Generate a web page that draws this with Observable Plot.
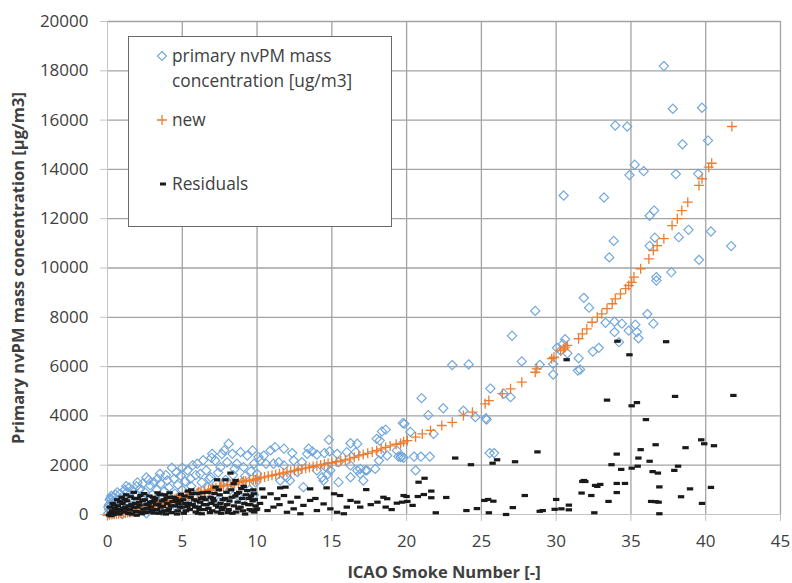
<!DOCTYPE html>
<html>
<head>
<meta charset="utf-8">
<script src="https://cdn.jsdelivr.net/npm/d3@7"></script>
<script src="https://cdn.jsdelivr.net/npm/@observablehq/plot@0.6"></script>
<style>
  html, body { margin: 0; padding: 0; background: #fff; }
  #wrap { position: relative; width: 792px; height: 583px; font-family: "Open Sans", Lato, sans-serif; }
  #legend { position: absolute; left: 128px; top: 36px; width: 264px; height: 191px; box-sizing: border-box;
            border: 1px solid #6a6a6a; background: #fff; color: #404040; font-size: 17.3px; }
  #legend .t { position: absolute; left: 43px; line-height: 25px; white-space: nowrap; }
  #legend svg { position: absolute; left: 0; top: 0; }
</style>
</head>
<body>
<div id="wrap">
  <div id="chart"></div>
  <div id="legend">
    <svg width="262" height="189">
      <path d="M33,14.5L37.5,19L33,23.5L28.5,19Z" fill="none" stroke="#6fa6dc" stroke-width="1.1"/>
      <path d="M28,83H38M33,78V88" fill="none" stroke="#ed7d31" stroke-width="1.3"/>
      <rect x="31" y="145.5" width="6" height="3" fill="#1a1a1a"/>
    </svg>
    <div class="t" style="top:6px">primary nvPM mass</div>
    <div class="t" style="top:31px">concentration [ug/m3]</div>
    <div class="t" style="top:70px">new</div>
    <div class="t" style="top:134px">Residuals</div>
  </div>
</div>
<script>
// ---- Data ----
const xTicks = [0, 5, 10, 15, 20, 25, 30, 35, 40, 45];
const yTicks = [0, 2000, 4000, 6000, 8000, 10000, 12000, 14000, 16000, 18000, 20000];

// primary nvPM mass concentration [ug/m3] vs ICAO smoke number
const primaryPoints = [
 [0.05,50],[0.1,200],[0.1,400],[0.15,600],[0.2,120],[0.3,300],[0.3,500],[0.4,700],[0.45,80],[0.5,250],
 [0.6,450],[0.7,600],[0.8,150],[0.85,840],[0.9,350],[1.0,550],[1.0,20],[1.1,700],[1.2,250],[1.3,900],
 [1.4,450],[1.5,100],[1.6,650],[1.7,970],[1.8,300],[1.9,800],[2.0,500],[2.1,150],[2.2,1040],[2.3,700],
 [2.4,350],[2.5,900],[2.6,50],[2.7,600],[2.85,1180],[2.9,400],[3.0,800],[3.1,1310],[3.2,250],[3.3,1000],
 [3.4,550],[3.55,1250],[3.6,150],[3.7,700],[3.8,950],[4.0,1380],[4.0,400],[4.1,1100],[4.2,600],[4.3,250],
 [4.45,1450],[4.5,850],[4.7,1200],[4.8,500],[4.9,1580],[5.0,1000],[5.1,300],[5.2,1350],[5.35,1790],[5.4,700],
 [5.55,1450],[5.6,1150],[5.8,450],[5.9,1600],[6.0,2060],[6.1,900],[6.2,1650],[6.3,1300],[6.5,550],[6.6,1790],
 [6.7,1100],[6.8,1450],[6.9,1510],[7.0,2460],[7.1,800],[7.2,2190],[7.3,1250],[7.4,1700],[7.55,1920],[7.6,600],
 [7.8,2600],[7.9,1400],[8.0,2120],[8.1,2870],[8.2,1000],[8.35,2460],[8.4,1600],[8.5,1850],[8.65,2060],[8.8,700],
 [8.9,2530],[9.0,1300],[9.1,1920],[9.2,1550],[9.35,2390],[9.5,1000],[9.6,1750],[9.7,2600],[9.8,2060],[9.9,1300],
 [0.25,750],[0.55,800],[1.15,1000],[1.45,1100],[1.95,1150],[2.35,1250],[2.75,1400],[3.35,1450],[3.9,1600],[4.6,1700],
 [5.0,1900],[5.7,2000],[6.4,2200],[6.95,2300],[7.65,2450],[3.0,200],[4.6,300],[6.0,400],[7.0,300],[8.0,500],
 [9.0,600],[9.8,800],[0.05,300],[0.2,650],[0.65,900],[1.25,1150],[2.0,1300],[2.6,1500],[3.5,1650],[4.3,1900],
 [10.0,1650],[10.1,2330],[10.2,2190],[10.45,2390],[10.6,2060],[10.9,2600],[11.1,2060],[11.2,2730],[11.45,2120],[11.55,1380],
 [11.8,2670],[11.8,1990],[12.0,1510],[12.2,1380],[12.35,2490],[12.45,2190],[12.7,1720],[13.0,2120],[13.1,1110],[13.35,2460],
 [13.45,2670],[13.7,2560],[14.0,2430],[14.0,1790],[14.35,1510],[14.45,1380],[14.5,2490],[14.6,1920],[14.7,1620],[14.8,3030],
 [14.85,2560],[14.9,1790],[15.35,2460],[15.45,2120],[15.45,1310],[16.0,2530],[16.25,2890],[16.25,1990],[16.25,1510],[16.6,2530],
 [16.7,2870],[16.7,1790],[16.9,1850],[16.9,1650],[17.1,1380],[17.25,1790],[17.35,1790],[17.9,1850],[18.0,3070],[18.15,2190],
 [18.2,3000],[18.25,2460],[18.35,3370],[18.6,3440],[18.7,2390],[19.35,2600],[19.45,2350],[19.6,2330],[19.75,3710],[19.8,2300],
 [19.85,3680],[20.25,3350],[19.7,2350],[20.5,2350],[20.6,1790],[20.95,2350],[21.0,4720],[21.45,4030],[21.55,2350],[21.8,3270],
 [22.45,4310],[23.05,6060],[23.8,4210],[24.15,6090],[24.6,3950],[25.3,3900],[25.35,3850],[25.55,2490],[25.6,5110],[25.85,2490],
 [26.5,4900],[26.95,4760],[27.05,7250],[27.7,6210],[28.6,8260],[28.9,6070],[29.8,6110],[29.8,5680],[30.05,6760],[30.3,6650],
 [30.45,6920],[30.5,12940],[30.6,7110],[30.75,6540],[31.45,5840],[31.5,6340],[31.6,5880],[31.85,8790],[32.2,8390],[32.45,6610],
 [32.85,6760],[33.2,12860],[33.3,7780],[33.55,10430],[33.85,11100],[33.9,7820],[33.9,7400],[33.95,15780],[34.2,6990],[34.4,7740],
 [34.75,15740],[34.85,7460],[34.9,13770],[35.25,14190],[35.3,7700],[35.4,7400],[35.5,7150],[35.85,13930],[36.1,8130],[36.25,12120],
 [36.25,10900],[36.5,7740],[36.55,12330],[36.6,11230],[36.7,9630],[36.7,9490],[37.2,18190],[37.7,9830],[37.8,16460],[38.0,13810],
 [38.2,11250],[38.45,15020],[38.85,11550],[39.5,13820],[39.55,10330],[39.75,16500],[40.15,15170],[40.35,11480],[41.7,10890]
];

// "new" model
const newPoints = [
 [0,-30],[0.15,-10],[0.3,0],[0.45,10],[0.6,20],[0.75,30],[0.9,40],[1.05,55],[1.2,65],[1.35,80],
 [1.5,90],[1.65,110],[1.8,130],[2.0,150],[2.2,180],[2.4,210],[2.6,250],[2.8,290],[3.0,320],[3.2,360],
 [3.4,400],[3.6,440],[3.8,480],[4.0,520],[4.25,570],[4.5,620],[4.75,670],[5.0,720],[5.25,760],[5.5,800],
 [5.75,840],[6.0,880],[6.25,920],[6.5,960],[6.75,1000],[7.0,1050],[7.25,1090],[7.5,1120],[7.75,1160],[8.0,1190],
 [8.25,1220],[8.5,1250],[8.75,1290],[9.0,1320],[9.25,1350],[9.5,1380],[9.75,1420],[10.0,1450],[10.25,1490],[10.5,1520],
 [10.75,1560],[11.0,1590],[11.25,1620],[11.5,1650],[11.75,1690],[12.0,1720],[12.25,1750],[12.5,1780],[12.75,1820],[13.0,1850],
 [13.25,1880],[13.5,1910],[13.75,1950],[14.0,1980],[14.25,2010],[14.5,2040],[14.75,2070],[15.0,2100],[15.3,2140],[15.6,2170],
 [15.9,2210],[16.2,2260],[16.5,2320],[16.8,2380],[17.1,2430],[17.4,2480],[17.7,2540],[18.0,2600],[18.3,2660],[18.6,2720],
 [18.9,2780],[19.3,2850],[19.6,2880],[19.8,2950],[20.05,3000],[20.6,3140],[21.05,3270],[21.6,3410],[22.35,3610],[23.05,3740],
 [23.8,4020],[24.4,4150],[25.25,4490],[25.5,4620],[26.4,4900],[26.95,5100],[27.7,5370],[28.6,5770],[28.7,5910],[29.7,6320],
 [29.85,6380],[30.3,6650],[30.5,6720],[30.6,6790],[30.75,6860],[31.5,7130],[31.75,7330],[32.05,7530],[32.4,7800],[32.75,8000],
 [33.05,8140],[33.4,8350],[33.75,8550],[33.95,8750],[34.3,8950],[34.65,9160],[34.85,9290],[35.05,9420],[35.2,9630],[35.65,9970],
 [36.2,10370],[36.5,10710],[36.75,10910],[37.2,11190],[37.75,11720],[38.1,12000],[38.4,12330],[38.8,12670],[39.55,13350],[39.75,13620],
 [40.2,14090],[40.4,14250],[41.75,15740],
 [3.1,360],[3.9,470],[4.6,660],[5.4,760],[6.1,920],[6.9,1010],[7.6,1160],[8.4,1210],[9.1,1360],[9.9,1410]
];

// Residuals
const residualPoints = [
 [0.1,-20],[0.2,50],[0.3,150],[0.4,0],[0.5,250],[0.6,80],[0.7,350],[0.8,20],[0.9,200],[1.0,450],
 [1.1,100],[1.2,300],[1.3,550],[1.4,40],[1.5,180],[1.6,400],[1.76,900],[1.8,650],[1.9,120],[2.0,300],
 [2.1,500],[2.2,770],[2.3,30],[2.4,220],[2.5,600],[2.6,400],[2.7,100],[2.8,750],[2.9,300],[3.0,520],
 [3.1,60],[3.2,650],[3.3,200],[3.4,420],[3.5,800],[3.6,100],[3.7,330],[3.8,600],[3.9,20],[4.0,450],
 [4.1,230],[4.2,700],[4.3,80],[4.43,700],[4.5,350],[4.6,550],[4.7,150],[4.88,570],[4.9,820],[5.0,300],
 [5.1,50],[5.2,450],[5.37,950],[5.5,200],[5.55,700],[5.7,400],[5.8,600],[5.9,100],[6.0,850],[6.1,300],
 [6.2,500],[6.3,30],[6.4,700],[6.5,200],[6.6,400],[6.7,900],[6.89,700],[7.0,150],[7.1,550],[7.22,1110],
 [7.33,1410],[7.4,300],[7.5,800],[7.6,50],[7.7,600],[7.89,1410],[8.0,400],[8.1,200],[8.22,1680],[8.3,700],
 [8.44,1250],[8.56,1380],[8.6,100],[8.7,500],[8.8,900],[8.9,300],[9.0,650],[9.11,1140],[9.2,20],[9.34,970],
 [9.4,400],[9.5,200],[9.6,750],[9.7,550],[9.8,100],[9.9,350],
 [0.15,300],[0.35,450],[0.55,100],[0.65,600],[0.95,700],[1.05,250],[1.25,800],[1.45,350],[1.65,20],[1.85,450],
 [2.05,650],[2.25,100],[2.45,850],[2.65,250],[2.85,500],[3.05,700],[3.25,400],[3.45,50],[3.65,550],[3.85,800],
 [4.05,150],[4.25,350],[4.55,650],[4.75,450],[5.05,600],[5.25,150],[5.45,450],[5.65,850],[5.85,300],[6.05,50],
 [6.25,650],[6.45,400],[6.75,250],[6.95,450],[7.15,850],[7.35,100],[7.55,450],[7.75,300],[7.95,900],[8.15,550],
 [8.35,50],[8.55,750],[8.75,250],[8.95,1050],[9.15,450],[9.45,650],[9.65,150],[9.85,600],
 [0.25,-50],[0.45,380],[0.75,150],[0.85,520],[1.15,620],[1.35,200],[1.55,720],[1.75,280],[1.95,-30],[2.15,380],
 [2.35,560],[2.55,80],[2.75,420],[2.95,170],[3.15,560],[3.35,880],[3.55,300],[3.75,150],[3.95,680],[4.15,880],
 [4.35,520],[4.65,20],[4.85,300],[5.15,750],[5.35,330],[5.6,1000],[5.95,550],[6.15,200],[6.35,880],[6.55,600],
 [6.85,80],[7.05,650],[7.25,380],[7.45,1000],[7.65,200],[7.85,650],[8.05,80],[8.25,1000],[8.45,350],[8.65,850],
 [9.05,150],[9.25,800],[9.55,400],[9.75,1000],[9.95,200],
 [9.8,840],[10.0,230],[10.2,450],[10.35,1040],
 [10.45,700],[10.7,160],[10.9,840],[11.1,300],[11.35,640],[11.5,400],[11.55,1080],[11.8,770],[11.9,1110],[12.0,90],
 [12.25,500],[12.45,230],[12.7,700],[12.9,30],[13.1,370],[13.55,1040],[13.55,570],[13.9,650],[14.0,160],[14.45,430],
 [14.65,1080],[14.9,230],[15.15,840],[15.35,90],[15.55,770],[15.8,30],[16.0,300],[16.25,570],[16.7,500],[16.9,300],
 [17.3,1010],[17.6,400],[18.05,500],[18.45,700],[18.6,300],[18.7,640],[19.0,200],[19.35,460],[19.8,770],[20.0,730],
 [19.7,500],[20.05,530],[20.4,370],[20.75,730],[20.8,1310],[21.15,810],[21.2,1470],[21.65,950],[21.65,680],[21.95,70],
 [22.65,690],[23.25,2290],[24.0,160],[24.3,2020],[24.7,240],[25.2,570],[25.45,610],[25.5,70],[25.75,2080],[25.8,540],
 [26.05,2220],[26.65,0],[27.1,280],[27.25,2140],[27.9,770],[28.75,2540],[28.9,130],[29.1,160],[29.9,210],[30.0,610],
 [30.35,230],[30.7,6280],[30.85,380],[30.85,190],[31.7,870],[31.75,1340],[31.85,1380],[31.95,1340],[32.35,770],[32.55,70],
 [32.6,1180],[32.75,1140],[32.95,1220],[33.4,4640],[33.5,530],[33.7,2020],[34.05,2450],[34.05,1260],[34.05,890],[34.1,7030],
 [34.35,1830],[34.6,1260],[34.9,6480],[35.05,4410],[35.05,1880],[35.4,4540],[35.45,1960],[35.5,2290],[35.65,2630],[36.0,3850],
 [36.25,2160],[36.35,530],[36.45,1740],[36.65,2830],[36.65,520],[36.8,1680],[36.85,500],[36.9,1120],[36.9,30],[37.35,7010],
 [37.9,1790],[37.95,4790],[38.15,1960],[38.35,720],[38.65,2710],[38.95,1040],[39.7,3030],[39.75,450],[39.9,2870],[40.35,1100],
 [40.55,2790],[41.85,4830]
];

// ---- Marker shapes ----
const diamond = { draw(ctx) { const a = 4.6; ctx.moveTo(0, -a); ctx.lineTo(a, 0); ctx.lineTo(0, a); ctx.lineTo(-a, 0); ctx.closePath(); } };
const plus = { draw(ctx) { const a = 5; ctx.moveTo(-a, 0); ctx.lineTo(a, 0); ctx.moveTo(0, -a); ctx.lineTo(0, a); } };
const dash = { draw(ctx) { ctx.rect(-3.2, -1.6, 6.4, 3.2); } };

const chart = Plot.plot({
  width: 792,
  height: 583,
  marginLeft: 107,
  marginRight: 12,
  marginTop: 21,
  marginBottom: 69,
  style: { fontFamily: "'Open Sans', Lato, sans-serif", fontSize: "17px", color: "#404040", background: "#fff", overflow: "visible" },
  x: { domain: [0, 45] },
  y: { domain: [0, 20000] },
  marks: [
    Plot.gridX({ ticks: xTicks.filter(d => d > 0), stroke: "#a3a3a3", strokeOpacity: 1, strokeWidth: 1.3 }),
    Plot.gridY({ ticks: yTicks.filter(d => d > 0), stroke: "#a3a3a3", strokeOpacity: 1, strokeWidth: 1.3 }),
    Plot.ruleX([0], { stroke: "#c4c4c4", strokeWidth: 1 }),
    Plot.ruleY([0], { stroke: "#c4c4c4", strokeWidth: 1 }),
    Plot.axisX({ ticks: xTicks, tickSize: 7, tickPadding: 13, stroke: "#c4c4c4", tickFormat: "d", label: null, fontSize: 17 }),
    Plot.axisY({ ticks: yTicks, tickSize: 7, tickPadding: 12, stroke: "#c4c4c4", tickFormat: "d", label: null, fontSize: 17 }),
    Plot.dot(primaryPoints, { x: d => d[0], y: d => d[1], symbol: diamond, fill: "none", stroke: "#6fa6dc", strokeWidth: 1.15 }),
    Plot.dot(newPoints, { x: d => d[0], y: d => d[1], symbol: plus, fill: "none", stroke: "#ed7d31", strokeWidth: 1.3 }),
    Plot.dot(residualPoints, { x: d => d[0], y: d => d[1], symbol: dash, fill: "#1a1a1a", stroke: "none" }),
    Plot.text(["ICAO Smoke Number [-]"], { frameAnchor: "bottom", dy: 58, lineAnchor: "middle", textAnchor: "middle", fontWeight: "bold", fontSize: 16.5, fill: "#404040" }),
    Plot.text(["Primary nvPM mass concentration [µg/m3]"], { frameAnchor: "left", dx: -89, rotate: -90, lineAnchor: "middle", textAnchor: "middle", fontWeight: "bold", fontSize: 16.5, fill: "#404040" })
  ]
});
document.getElementById("chart").appendChild(chart);
</script>
</body>
</html>
